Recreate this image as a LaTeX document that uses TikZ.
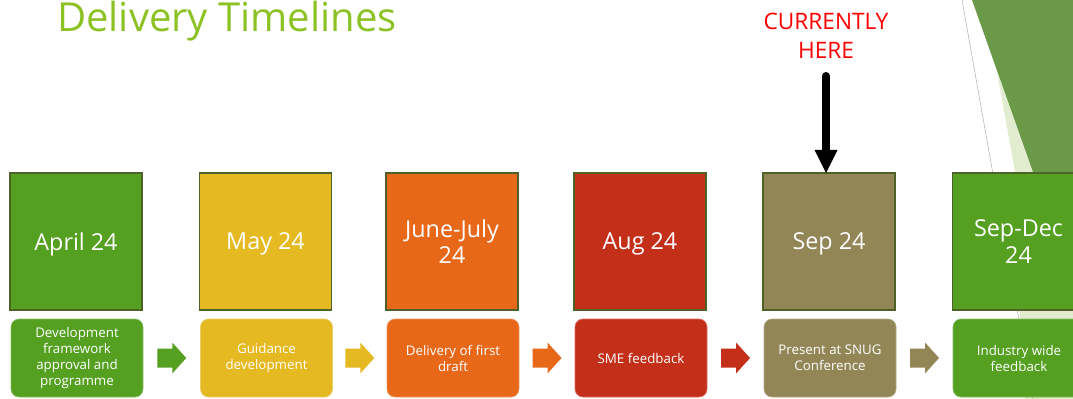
\documentclass[tikz,border=0pt]{standalone}
\usepackage{fontspec}
\setmainfont{Open Sans}
\usetikzlibrary{calc}
\definecolor{cgreen}{HTML}{55A021}
\definecolor{cyellow}{HTML}{E5B921}
\definecolor{corange}{HTML}{E8681A}
\definecolor{cred}{HTML}{C42F1A}
\definecolor{colive}{HTML}{928656}
\definecolor{cborder}{HTML}{4E6228}
\definecolor{ctitle}{HTML}{8CC224}
\definecolor{decodark}{HTML}{6A9A48}
\definecolor{decolight}{HTML}{E2EDCF}
\tikzset{
  topbox/.style={draw=cborder, line width=1.2pt, fill=#1, minimum width=99pt, minimum height=102.75pt, inner sep=0pt, text=white, align=center, text depth=0pt, font=\fontsize{17.5}{20}\selectfont},
  botbox/.style={draw=#1!70!white, line width=0.5pt, fill=#1, rounded corners=6pt, minimum width=99pt, minimum height=58.5pt, inner sep=0pt, text=white, align=center, font=\fontsize{10}{12}\selectfont},
}
\newcommand{\blkarrow}[3]{%
  \path ($(#1.east)!0.5!(#2.west)$) coordinate (m);
  \fill[#3] ([shift={(-14.5,-9.5)}]m) -- ++(15,0) -- ++(0,-6) -- ++(14,15.5) -- ++(-14,15.5) -- ++(0,-6) -- ++(-15,0) -- cycle;}
\begin{document}
\begin{tikzpicture}[x=0.75pt,y=-0.75pt]
\useasboundingbox (0,0) rectangle (1073,399);
\clip (0,0) rectangle (1073,399);
% decoration
\fill[decolight] (997,72) -- (1015,172) -- (1020,320) -- (1025,399) -- (1073,399) -- (1073,285) -- cycle;
\fill[decodark] (972,0) -- (1073,0) -- (1073,285) -- cycle;
\draw[black!30, line width=0.4pt] (962,0) -- (1033,399);
% title
\node[anchor=base west, inner sep=0pt, text=ctitle, font=\fontsize{30}{34}\selectfont] (title) at (57,32) {Delivery Timelines};
% top boxes
\node[topbox=cgreen] (t1) at (76,241.5) {April 24};
\node[topbox=cyellow] (t2) at (265.5,241.5) {May 24};
\node[topbox=corange] (t3) at (452,241.5) {June-July\\24};
\node[topbox=cred] (t4) at (640,241.5) {Aug 24};
\node[topbox=colive] (t5) at (829,241.5) {Sep 24};
\node[topbox=cgreen] (t6) at (1018.5,241.5) {Sep-Dec\\24};
% bottom boxes
\node[botbox=cgreen] (b1) at (77,358) {Development\\framework\\approval and\\programme};
\node[botbox=cyellow] (b2) at (266.5,358) {Guidance\\development};
\node[botbox=corange] (b3) at (453,358) {Delivery of first\\draft};
\node[botbox=cred] (b4) at (641,358) {SME feedback};
\node[botbox=colive] (b5) at (830,358) {Present at SNUG\\Conference};
\node[botbox=cgreen] (b6) at (1019,358) {Industry wide\\feedback};
% block arrows
\blkarrow{b1}{b2}{cgreen}
\blkarrow{b2}{b3}{cyellow}
\blkarrow{b3}{b4}{corange}
\blkarrow{b4}{b5}{cred}
\blkarrow{b5}{b6}{colive}
% currently here
\node[anchor=north, inner sep=0pt, text=red, align=center, font=\fontsize{17}{21.75}\selectfont] (cur) at (826,13) {CURRENTLY\\HERE};
\coordinate (ctop) at (826,76);
\coordinate (tip) at (826,173);
\draw[line width=6pt, line cap=round] (ctop) -- ([yshift=-1pt]tip |- 0,151);
\fill (tip) -- ++(-11.5,-23) -- ++(23,0) -- cycle;
\end{tikzpicture}
\end{document}
